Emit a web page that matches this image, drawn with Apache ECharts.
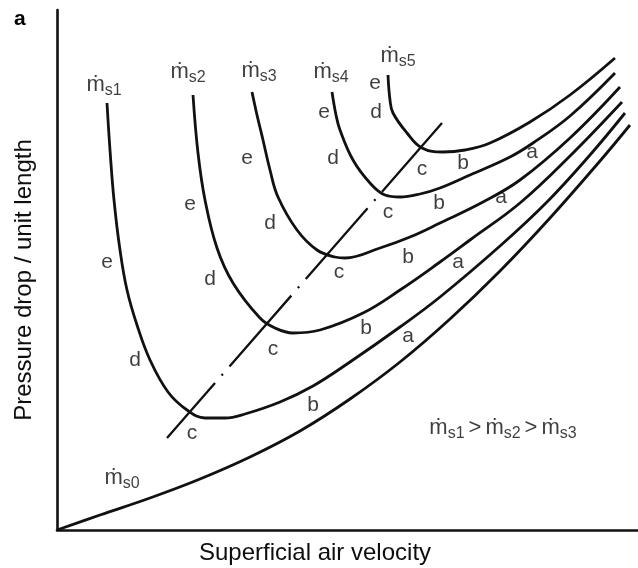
<!DOCTYPE html>
<html>
<head>
<meta charset="utf-8">
<script src="https://cdn.jsdelivr.net/npm/echarts@6/dist/echarts.min.js"></script>
<style>
  html, body { margin: 0; padding: 0; background: #fff; }
  #chart { width: 638px; height: 568px; }
</style>
</head>
<body>
<div id="chart"></div>
<script>
// State diagram for pneumatic conveying: pressure drop per unit length
// against superficial air velocity for several solids mass flow rates.
// Values are in arbitrary units (no scale is shown on the axes).

// Air only (zero solids flow)
const flowS0 = [[0, 0], [43, 15], [93, 32], [143, 51], [193, 73], [243, 99], [293, 131], [343, 168], [393, 211], [443, 259], [493, 312], [543, 369], [573, 405]];
// Solids flow rates, highest (s1) to lowest (s5)
const flowS1 = [[50, 427], [53, 380], [57, 330], [63, 280], [70, 240], [80, 205], [93, 170], [111, 138], [130, 120], [148, 112], [168, 112], [188, 116], [223, 128], [256, 144], [293, 168], [343, 203], [383, 233], [443, 284], [490, 328], [533, 375], [568, 417]];
const flowS2 = [[136, 435], [141, 377], [148, 330], [160, 282], [176, 247], [203, 212], [218, 202], [236, 197], [263, 200], [306, 217], [343, 240], [383, 268], [413, 290], [463, 327], [513, 374], [565, 428]];
const flowS3 = [[195, 438], [200, 415], [206, 390], [213, 360], [221, 333], [240, 300], [260, 280], [278, 273], [288, 272], [323, 282], [353, 293], [383, 307], [426, 328], [463, 350], [513, 392], [563, 443]];
const flowS4 = [[275, 438], [279, 415], [283, 400], [296, 370], [313, 347], [328, 335], [343, 333], [363, 336], [383, 342], [413, 355], [453, 373], [476, 387], [513, 414], [558, 457]];
const flowS5 = [[331, 455], [333, 430], [336, 417], [350, 397], [365, 382], [386, 378], [408, 380], [433, 387], [473, 408], [513, 435], [558, 472]];

// Locus of the pressure minima (saltation boundary)
const minimumLocus = [[110, 92], [385, 407]];

// Curve names and where they are written
const curveTags = ['0', '1', '2', '3', '4', '5'];
const curveTagAt = [[65, 52], [47, 445], [131, 458], [202, 459], [274, 458], [341, 474]];

// Flow regime letters along the curves
const regimeLetters = ['e', 'e', 'e', 'e', 'e', 'd', 'd', 'd', 'd', 'd', 'c', 'c', 'c', 'c', 'c', 'b', 'b', 'b', 'b', 'b', 'a', 'a', 'a', 'a'];
const regimeAt = [
  [50, 268], [133, 326], [190, 372], [267, 418], [318, 447],
  [78, 170], [153, 251], [213, 307], [276, 372], [319, 418],
  [135, 97], [216, 181], [282, 258], [331, 318], [365, 361],
  [256, 125], [309, 202], [351, 273], [382, 327], [406, 367],
  [351, 194], [401, 268], [444, 333], [475, 378]
];

// Ordering note
const orderingTags = ['1', '2', '3'];
const orderingAt = [446, 102];

const INK = '#111111';
const TEXT = '#0e0e0e';
const FONT = "'Liberation Sans', Arial, Helvetica, sans-serif";

const richMs = {
  m: { fontSize: 22, fontFamily: FONT, color: TEXT },
  g: { fontSize: 22, fontFamily: FONT, color: TEXT, padding: [0, 4, 0, 4] },
  s: { fontSize: 16, fontFamily: FONT, color: TEXT, padding: [12, 0, 0, 0] }
};

function curveSeries(data) {
  return {
    type: 'line',
    data: data,
    smooth: 0.4,
    showSymbol: false,
    symbol: 'none',
    silent: true,
    lineStyle: { color: INK, width: 2.8 },
    z: 3
  };
}

const series = [flowS0, flowS1, flowS2, flowS3, flowS4, flowS5].map(curveSeries);

series.push({
  type: 'line',
  data: minimumLocus,
  showSymbol: false,
  symbol: 'none',
  silent: true,
  lineStyle: { color: INK, width: 2.3, type: [94, 10, 2, 10], dashOffset: 21, cap: 'butt' },
  z: 3
});

series.push({
  type: 'scatter',
  silent: true,
  symbolSize: 0,
  data: curveTags.map((t, i) => ({ value: curveTagAt[i], name: t })),
  label: {
    show: true,
    position: 'inside',
    formatter: p => '{m|ṁ}{s|s' + p.name + '}',
    rich: richMs
  },
  z: 5
});

series.push({
  type: 'scatter',
  silent: true,
  symbolSize: 0,
  data: regimeLetters.map((t, i) => ({ value: regimeAt[i], name: t })),
  label: {
    show: true,
    position: 'inside',
    formatter: p => p.name,
    fontSize: 21,
    fontFamily: FONT,
    color: TEXT
  },
  z: 5
});

series.push({
  type: 'scatter',
  silent: true,
  symbolSize: 0,
  data: [{ value: orderingAt, name: 'order' }],
  label: {
    show: true,
    position: 'inside',
    formatter: () => orderingTags.map(t => '{m|ṁ}{s|s' + t + '}').join('{g|>}'),
    rich: richMs
  },
  z: 5
});

const chart = echarts.init(document.getElementById('chart'), null, { renderer: 'canvas' });
chart.setOption({
  animation: false,
  backgroundColor: '#ffffff',
  grid: { left: 57, right: 0, top: 10, bottom: 38 },
  xAxis: {
    type: 'value', min: 0, max: 581,
    axisLine: { show: true, lineStyle: { color: INK, width: 2.6 } },
    axisTick: { show: false }, axisLabel: { show: false }, splitLine: { show: false }
  },
  yAxis: {
    type: 'value', min: 0, max: 520,
    axisLine: { show: true, lineStyle: { color: INK, width: 2.6 } },
    axisTick: { show: false }, axisLabel: { show: false }, splitLine: { show: false }
  },
  graphic: [
    {
      type: 'text', x: 14, y: 9,
      style: { text: 'a', font: 'bold 21px ' + FONT, fill: '#000' }
    },
    {
      type: 'text', x: 24, y: 280, rotation: Math.PI / 2,
      style: { text: 'Pressure drop / unit length', font: '24px ' + FONT, fill: TEXT, align: 'center', verticalAlign: 'middle' }
    },
    {
      type: 'text', x: 315, y: 553,
      style: { text: 'Superficial air velocity', font: '24px ' + FONT, fill: TEXT, align: 'center', verticalAlign: 'middle' }
    }
  ],
  series: series
});
</script>
</body>
</html>
